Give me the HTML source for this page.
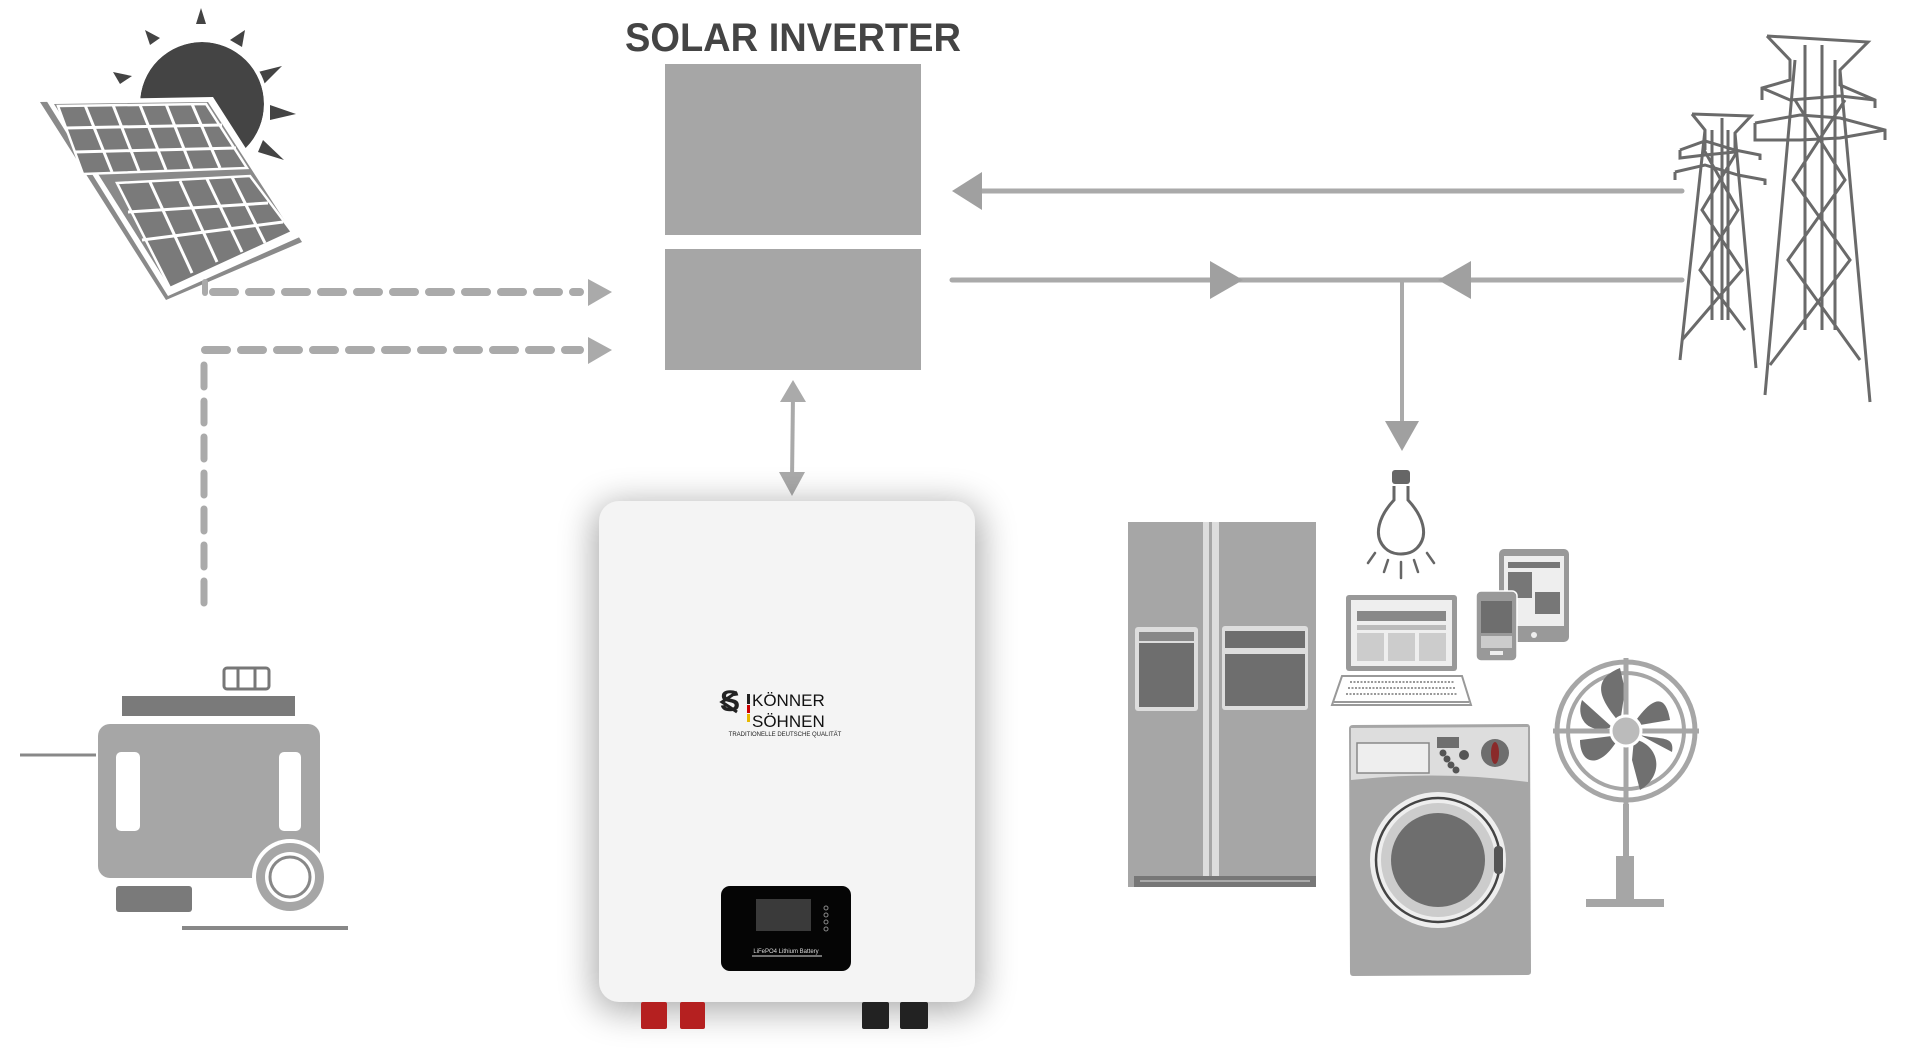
<!DOCTYPE html>
<html><head><meta charset="utf-8"><style>
html,body{margin:0;padding:0;background:#fff;}
svg{display:block;}
</style></head><body>
<svg width="1920" height="1062" viewBox="0 0 1920 1062" xmlns="http://www.w3.org/2000/svg">
<defs>
<filter id="sh" x="-30%" y="-30%" width="160%" height="160%"><feGaussianBlur stdDeviation="18"/></filter>
</defs>
<rect width="1920" height="1062" fill="#fff"/>

<!-- Title -->
<text x="793" y="51" text-anchor="middle" font-family="Liberation Sans, sans-serif" font-weight="bold" font-size="40" fill="#444" textLength="336" lengthAdjust="spacingAndGlyphs">SOLAR INVERTER</text>

<!-- Inverter boxes -->
<rect x="665" y="64" width="256" height="171" fill="#a6a6a6"/>
<rect x="665" y="249" width="256" height="121" fill="#a6a6a6"/>

<!-- Sun -->
<g fill="#444">
<circle cx="202" cy="104" r="62"/>
<polygon points="196,24 206,24 201,8"/>
<polygon points="150,45 160,38 145,30"/>
<polygon points="230,40 242,47 245,30"/>
<polygon points="258,72 264,84 282,66"/>
<polygon points="270,105 270,120 296,114"/>
<polygon points="263,140 258,152 284,160"/>
<polygon points="120,84 132,76 113,72"/>
</g>
<circle cx="202" cy="104" r="64" fill="none" stroke="#fff" stroke-width="4"/>

<!-- Solar panel -->
<polygon points="40,102 211,99 302,242 166,300" fill="#8a8a8a"/>
<polygon points="46,100 213,97 302,236 168,296" fill="#fff"/>
<polygon points="54,104 208,102 292,232 170,288" fill="#8a8a8a"/>
<g fill="#7a7a7a" stroke="#fff" stroke-width="2.5">
<polygon points="58,106 206,104 247,168 83,174"/>
<polygon points="117,183 250,176 292,232 170,288"/>
</g>
<g stroke="#fff" stroke-width="3">
<line x1="85" y1="105" x2="112" y2="172"/><line x1="113" y1="105" x2="139" y2="171"/><line x1="140" y1="105" x2="166" y2="170"/><line x1="166" y1="104" x2="192" y2="169"/><line x1="192" y1="104" x2="220" y2="168"/>
<line x1="66" y1="128" x2="222" y2="125"/><line x1="75" y1="152" x2="236" y2="148"/>
<line x1="150" y1="182" x2="192" y2="273"/><line x1="180" y1="181" x2="217" y2="262"/><line x1="207" y1="179" x2="242" y2="252"/><line x1="232" y1="177" x2="265" y2="243"/>
<line x1="128" y1="212" x2="268" y2="203"/><line x1="142" y1="240" x2="283" y2="222"/>
</g>

<!-- Dashed lines -->
<g stroke="#aaa" stroke-width="8" stroke-linecap="round" fill="none">
<line x1="213" y1="292" x2="580" y2="292" stroke-dasharray="22,14"/>
<line x1="205" y1="350" x2="580" y2="350" stroke-dasharray="22,14"/>
<line x1="204" y1="365" x2="204" y2="607" stroke-width="7" stroke-dasharray="22,14"/>
</g>
<line x1="205" y1="282" x2="205" y2="293" stroke="#aaa" stroke-width="6" stroke-linecap="round"/>
<polygon points="588,279 612,292 588,306" fill="#aaa"/>
<polygon points="588,337 612,350 588,364" fill="#aaa"/>

<!-- Battery-inverter arrow -->
<line x1="793" y1="395" x2="792" y2="480" stroke="#aaa" stroke-width="4"/>
<polygon points="793,380 780,402 806,402" fill="#aaa"/>
<polygon points="792,496 779,472 805,472" fill="#aaa"/>

<!-- Grid lines -->
<g stroke="#aaa" stroke-width="5" stroke-linecap="round">
<line x1="965" y1="191" x2="1682" y2="191"/>
<line x1="952" y1="280" x2="1682" y2="280"/>
<line x1="1402" y1="282" x2="1402" y2="425" stroke-width="4"/>
</g>
<polygon points="952,191 982,172 982,210" fill="#a0a0a0"/>
<polygon points="1243,280 1210,261 1210,299" fill="#a0a0a0"/>
<polygon points="1438,280 1471,261 1471,299" fill="#a0a0a0"/>
<polygon points="1385,421 1419,421 1402,451" fill="#a0a0a0"/>

<!-- Towers -->
<g stroke="#6a6a6a" stroke-width="3" fill="none">
<!-- small -->
<polyline points="1692,114 1751,116 1735,133 1735,150"/>
<polyline points="1692,114 1705,130 1705,150"/>
<polyline points="1680,150 1705,141 1735,150 1760,155 1760,160"/>
<polyline points="1680,150 1680,158 1705,155 1735,152"/>
<polyline points="1675,172 1705,165 1738,175 1765,180 1765,185"/>
<polyline points="1675,172 1675,180"/>
<line x1="1705" y1="130" x2="1680" y2="360"/>
<line x1="1735" y1="133" x2="1756" y2="368"/>
<line x1="1712" y1="130" x2="1712" y2="320"/><line x1="1722" y1="118" x2="1722" y2="320"/><line x1="1728" y1="130" x2="1728" y2="320"/>
<polyline points="1704,150 1738,210 1700,270 1745,330"/>
<polyline points="1738,150 1702,210 1742,270 1682,340"/>
<!-- big -->
<polyline points="1767,36 1868,42 1840,70 1840,85 1875,100 1875,108"/>
<polyline points="1767,36 1790,60 1790,80 1762,88 1762,100"/>
<polyline points="1762,88 1790,100 1840,96 1875,100"/>
<polyline points="1755,123 1800,115 1840,118 1885,130 1885,140"/>
<polyline points="1755,123 1755,140 1800,140 1840,138 1885,130"/>
<line x1="1795" y1="60" x2="1765" y2="395"/>
<line x1="1840" y1="70" x2="1870" y2="402"/>
<line x1="1805" y1="45" x2="1805" y2="330"/><line x1="1822" y1="45" x2="1822" y2="330"/><line x1="1835" y1="60" x2="1835" y2="330"/>
<polyline points="1795,100 1845,180 1788,260 1860,360"/>
<polyline points="1845,100 1793,180 1850,260 1770,365"/>
</g>

<!-- Generator -->
<rect x="224" y="668" width="45" height="21" rx="3" fill="#fff" stroke="#777" stroke-width="3"/>
<line x1="238" y1="669" x2="238" y2="688" stroke="#777" stroke-width="3"/><line x1="255" y1="669" x2="255" y2="688" stroke="#777" stroke-width="3"/>
<rect x="122" y="696" width="173" height="20" fill="#7a7a7a"/>
<rect x="98" y="724" width="222" height="154" rx="12" fill="#a6a6a6"/>
<rect x="116" y="752" width="24" height="79" rx="5" fill="#fff"/>
<rect x="279" y="752" width="22" height="79" rx="5" fill="#fff"/>
<line x1="20" y1="755" x2="96" y2="755" stroke="#888" stroke-width="3"/>
<rect x="116" y="886" width="76" height="26" rx="3" fill="#7a7a7a"/>
<circle cx="290" cy="877" r="38" fill="#fff"/>
<circle cx="290" cy="877" r="34" fill="#a6a6a6"/>
<circle cx="290" cy="877" r="25" fill="#fff"/>
<circle cx="290" cy="877" r="20" fill="none" stroke="#888" stroke-width="3"/>
<line x1="182" y1="928" x2="348" y2="928" stroke="#888" stroke-width="4"/>

<!-- Battery -->
<rect x="595" y="505" width="385" height="505" rx="22" fill="#000" opacity="0.35" filter="url(#sh)"/>
<rect x="599" y="501" width="376" height="501" rx="20" fill="#f4f4f4"/>
<text x="752" y="706" font-family="Liberation Sans, sans-serif" font-size="17" fill="#111">KÖNNER</text>
<text x="752" y="727" font-family="Liberation Sans, sans-serif" font-size="17" fill="#111">SÖHNEN</text>
<text x="720" y="711" font-family="Liberation Sans, sans-serif" font-weight="bold" font-size="30" fill="#222">S</text>
<path d="M737,692 L722,702 L737,712" stroke="#222" stroke-width="3" fill="none"/>
<rect x="747" y="694" width="3" height="10" fill="#222"/><rect x="747" y="705" width="3" height="8" fill="#c00"/><rect x="747" y="714" width="3" height="8" fill="#e8b800"/>
<text x="785" y="736" text-anchor="middle" font-family="Liberation Sans, sans-serif" font-size="6" fill="#222">TRADITIONELLE DEUTSCHE QUALITÄT</text>
<rect x="721" y="886" width="130" height="85" rx="9" fill="#050505"/>
<rect x="756" y="899" width="55" height="32" fill="#3a3a3a"/>
<g fill="none" stroke="#888" stroke-width="1"><circle cx="826" cy="908" r="2"/><circle cx="826" cy="915" r="2"/><circle cx="826" cy="922" r="2"/><circle cx="826" cy="929" r="2"/></g>
<text x="786" y="953" text-anchor="middle" font-family="Liberation Sans, sans-serif" font-size="6" fill="#ddd">LiFePO4 Lithium Battery</text>
<line x1="752" y1="956" x2="822" y2="956" stroke="#ddd" stroke-width="1"/>
<rect x="641" y="1002" width="26" height="27" rx="2" fill="#b52020"/>
<rect x="680" y="1002" width="25" height="27" rx="2" fill="#b52020"/>
<rect x="862" y="1002" width="27" height="27" rx="2" fill="#222"/>
<rect x="900" y="1002" width="28" height="27" rx="2" fill="#222"/>

<!-- Fridge -->
<rect x="1128" y="522" width="188" height="365" fill="#a6a6a6"/>
<rect x="1203" y="522" width="16" height="355" fill="#ddd"/>
<rect x="1209" y="522" width="3" height="355" fill="#a6a6a6"/>
<rect x="1135" y="627" width="63" height="84" rx="3" fill="#ddd"/>
<rect x="1139" y="643" width="55" height="64" fill="#6e6e6e"/>
<rect x="1139" y="632" width="55" height="9" fill="#888"/>
<rect x="1222" y="626" width="86" height="84" rx="3" fill="#ddd"/>
<rect x="1225" y="631" width="80" height="17" fill="#6e6e6e"/>
<rect x="1225" y="654" width="80" height="52" fill="#6e6e6e"/>
<rect x="1134" y="876" width="182" height="11" fill="#777"/>
<line x1="1140" y1="881" x2="1310" y2="881" stroke="#bbb" stroke-width="1.5"/>

<!-- Bulb -->
<rect x="1392" y="470" width="18" height="14" rx="3" fill="#666"/>
<path d="M1394,486 L1394,500 C1380,515 1372,535 1385,548 C1393,556 1409,556 1417,548 C1430,535 1422,515 1408,500 L1408,486" fill="#fff" stroke="#666" stroke-width="3"/>
<g stroke="#666" stroke-width="2.5" stroke-linecap="round">
<line x1="1401" y1="562" x2="1401" y2="578"/><line x1="1388" y1="560" x2="1384" y2="572"/><line x1="1414" y1="560" x2="1418" y2="572"/><line x1="1375" y1="553" x2="1368" y2="563"/><line x1="1427" y1="553" x2="1434" y2="563"/>
</g>

<!-- Laptop -->
<rect x="1346" y="595" width="111" height="76" rx="3" fill="#999"/>
<rect x="1351" y="600" width="101" height="66" fill="#eee"/>
<rect x="1357" y="611" width="89" height="10" fill="#888"/>
<rect x="1357" y="625" width="89" height="5" fill="#bbb"/>
<rect x="1357" y="633" width="27" height="28" fill="#ccc"/><rect x="1388" y="633" width="27" height="28" fill="#ccc"/><rect x="1419" y="633" width="27" height="28" fill="#ccc"/>
<polygon points="1342,676 1462,676 1471,705 1332,705" fill="#fff" stroke="#999" stroke-width="2"/>
<g stroke="#999" stroke-width="2" stroke-dasharray="2,1.5"><line x1="1350" y1="682" x2="1454" y2="682"/><line x1="1348" y1="688" x2="1456" y2="688"/><line x1="1346" y1="694" x2="1458" y2="694"/></g>
<line x1="1334" y1="702" x2="1469" y2="702" stroke="#999" stroke-width="2"/>

<!-- Tablet -->
<rect x="1499" y="549" width="70" height="93" rx="5" fill="#999"/>
<rect x="1504" y="556" width="60" height="70" fill="#eee"/>
<rect x="1508" y="562" width="52" height="6" fill="#777"/>
<rect x="1508" y="572" width="24" height="26" fill="#777"/><rect x="1535" y="592" width="25" height="22" fill="#777"/>
<circle cx="1534" cy="635" r="3" fill="#eee"/>
<!-- Phone -->
<rect x="1476" y="591" width="41" height="70" rx="5" fill="#999" stroke="#fff" stroke-width="1.5"/>
<rect x="1481" y="601" width="31" height="32" fill="#6e6e6e"/>
<rect x="1481" y="636" width="31" height="12" fill="#ccc"/>
<rect x="1490" y="651" width="13" height="4" fill="#eee"/>

<!-- Washer -->
<path d="M1349,729 Q1349,725 1353,725 L1527,724 Q1530,724 1530,728 L1531,972 Q1531,975 1527,975 L1353,976 Q1350,976 1350,972 Z" fill="#a6a6a6"/>
<path d="M1351,728 L1528,727 L1528,782 Q1440,770 1351,780 Z" fill="#ddd"/>
<rect x="1357" y="743" width="72" height="30" fill="#eee" stroke="#888" stroke-width="1.5"/>
<rect x="1437" y="737" width="22" height="11" fill="#6e6e6e"/>
<g fill="#555"><circle cx="1443" cy="753" r="3.5"/><circle cx="1447" cy="759" r="3.5"/><circle cx="1451" cy="765" r="3.5"/><circle cx="1456" cy="770" r="3.5"/><circle cx="1464" cy="755" r="5"/></g>
<circle cx="1495" cy="753" r="14" fill="#6e6e6e"/><ellipse cx="1495" cy="753" rx="4" ry="11" fill="#8a2a2a"/>
<circle cx="1438" cy="860" r="68" fill="#eee"/>
<circle cx="1438" cy="860" r="62" fill="none" stroke="#444" stroke-width="2.5"/>
<circle cx="1438" cy="860" r="57" fill="#ccc"/>
<circle cx="1438" cy="860" r="47" fill="#6e6e6e"/>
<rect x="1494" y="846" width="9" height="28" rx="4" fill="#555"/>

<!-- Fan -->
<g fill="none" stroke="#a6a6a6">
<circle cx="1626" cy="731" r="69" stroke-width="5"/>
<circle cx="1626" cy="731" r="58" stroke-width="4"/>
</g>
<g fill="#707070">
<path d="M1620,723 C1600,700 1590,680 1620,668 L1625,690 Z"/>
<path d="M1634,723 C1650,700 1665,690 1670,720 L1640,725 Z"/>
<path d="M1634,739 C1660,745 1665,775 1640,790 L1632,760 Z"/>
<path d="M1618,739 C1600,770 1580,765 1580,740 L1612,736 Z"/>
<path d="M1612,727 C1590,735 1575,720 1582,700 Z"/>
<path d="M1640,735 C1660,740 1675,735 1672,752 Z"/>
</g>
<g stroke="#a6a6a6" stroke-width="5"><line x1="1553" y1="731" x2="1699" y2="731"/><line x1="1626" y1="658" x2="1626" y2="804"/></g>
<circle cx="1626" cy="731" r="15" fill="#bbb" stroke="#fff" stroke-width="3"/>
<rect x="1623" y="804" width="6" height="55" fill="#a6a6a6"/>
<rect x="1616" y="856" width="18" height="44" fill="#a6a6a6"/>
<rect x="1586" y="899" width="78" height="8" fill="#a6a6a6"/>
</svg>
</body></html>
